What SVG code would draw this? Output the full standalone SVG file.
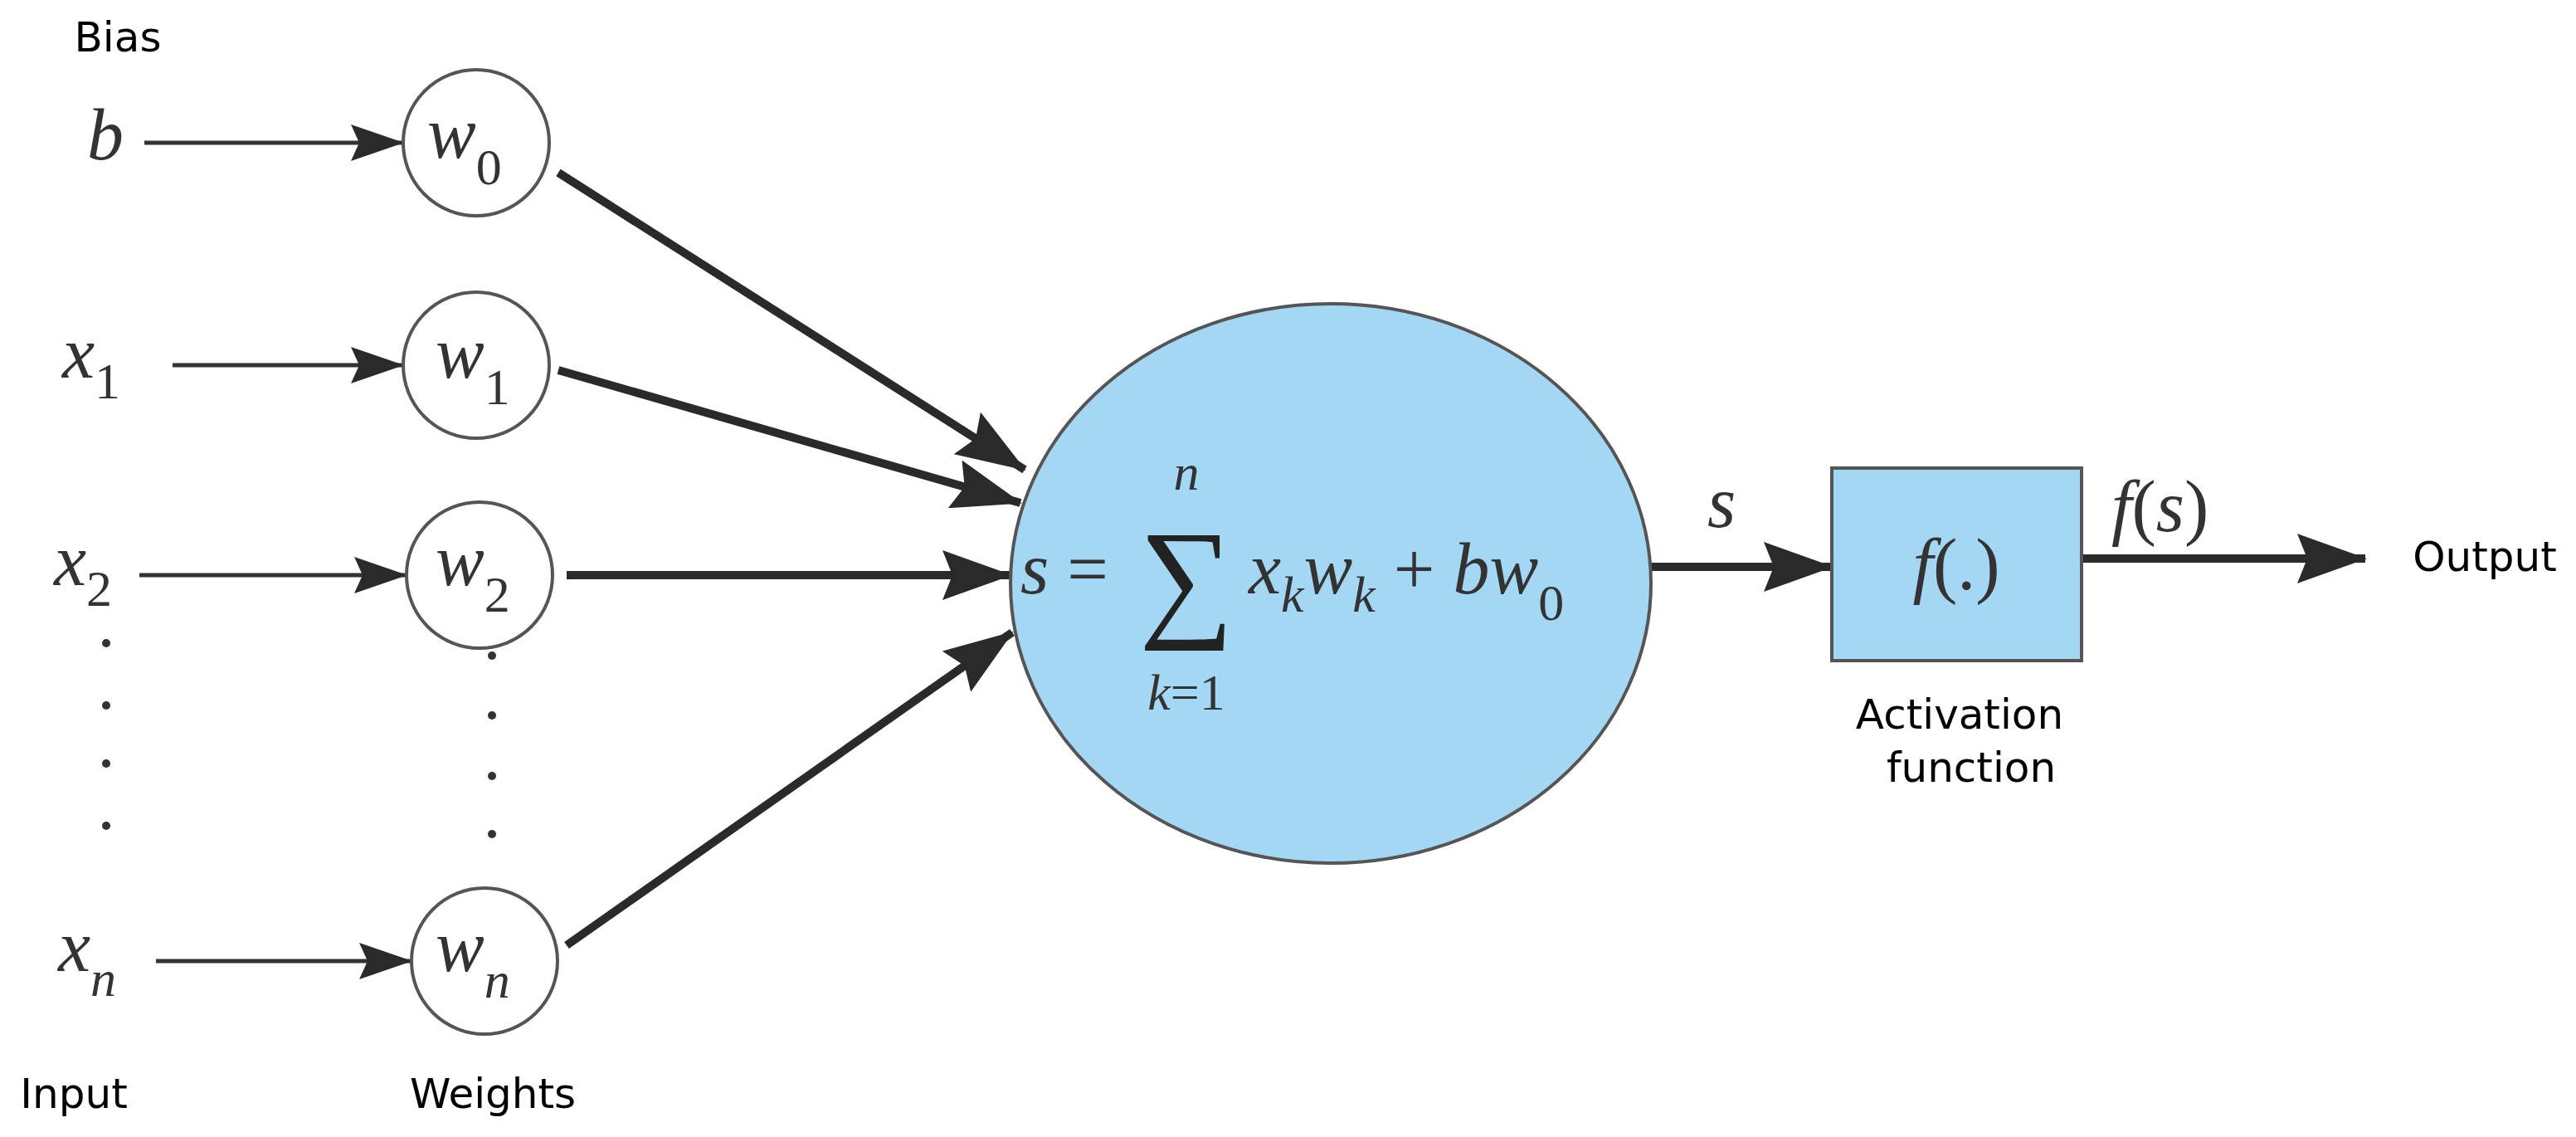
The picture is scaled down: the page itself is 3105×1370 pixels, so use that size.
<svg xmlns="http://www.w3.org/2000/svg" width="3105" height="1370" viewBox="0 0 3105 1370">
<style>
.lbl{font-family:"DejaVu Sans",sans-serif;font-size:50px;fill:#000}
.m{font-family:"Liberation Serif",serif;font-style:italic;font-size:88px;fill:#333}
.sub{font-family:"Liberation Serif",serif;font-style:normal;font-size:62px;fill:#333}
.subi{font-family:"Liberation Serif",serif;font-style:italic;font-size:62px;fill:#333}
.w{fill:#fff;stroke:#555;stroke-width:4}
.thin{stroke:#333;stroke-width:5;fill:none}
.thick{stroke:#2a2a2a;stroke-width:10;fill:none}
.dot{fill:#333}
</style>
<defs>
<marker id="ah" viewBox="0 0 64 44" refX="62" refY="22" markerWidth="64" markerHeight="44" markerUnits="userSpaceOnUse" orient="auto"><path d="M0,0 L64,22 L0,44 L10,22 z" fill="#2a2a2a"/></marker>
<marker id="ahk" viewBox="0 0 84 60" refX="82" refY="30" markerWidth="84" markerHeight="60" markerUnits="userSpaceOnUse" orient="auto"><path d="M0,0 L84,30 L0,60 L12,30 z" fill="#2a2a2a"/></marker>
</defs>
<g id="connectors">
<line class="thin" x1="174" y1="172" x2="485" y2="172" marker-end="url(#ah)"/>
<line class="thin" x1="208" y1="440" x2="485" y2="440" marker-end="url(#ah)"/>
<line class="thin" x1="168" y1="693" x2="489" y2="693" marker-end="url(#ah)"/>
<line class="thin" x1="188" y1="1158" x2="495" y2="1158" marker-end="url(#ah)"/>
<line class="thick" x1="673" y1="208" x2="1235" y2="566" marker-end="url(#ahk)"/>
<line class="thick" x1="673" y1="446" x2="1230" y2="606" marker-end="url(#ahk)"/>
<line class="thick" x1="683" y1="693" x2="1218" y2="693" marker-end="url(#ahk)"/>
<line class="thick" x1="683" y1="1139" x2="1220" y2="762" marker-end="url(#ahk)"/>
<line class="thick" x1="1990" y1="683" x2="2208" y2="683" marker-end="url(#ahk)"/>
<line class="thick" x1="2509" y1="673" x2="2851" y2="673" marker-end="url(#ahk)"/>
</g>
<g id="labels">
<text class="lbl" x="142" y="62" text-anchor="middle">Bias</text>
<text class="lbl" x="89" y="1335" text-anchor="middle">Input</text>
<text class="lbl" x="594" y="1335" text-anchor="middle">Weights</text>
<text class="lbl" x="2362" y="878" text-anchor="middle">Activation</text>
<text class="lbl" x="2376" y="942" text-anchor="middle">function</text>
<text class="lbl" x="2995" y="688" text-anchor="middle">Output</text>
<text class="m" x="2075" y="635" text-anchor="middle">s</text>
<text class="m" x="2545" y="640">f<tspan font-style="normal">(</tspan>s<tspan font-style="normal">)</tspan></text>
</g>
<g id="inputs">
<text class="m" x="105" y="192">b</text>
<text class="m" x="75" y="455">x<tspan class="sub" dy="25">1</tspan></text>
<text class="m" x="65" y="705">x<tspan class="sub" dy="25">2</tspan></text>
<text class="m" x="70" y="1170">x<tspan class="subi" dy="30">n</tspan></text>
<circle class="dot" cx="128" cy="775" r="5"/><circle class="dot" cx="128" cy="850" r="5"/><circle class="dot" cx="128" cy="920" r="5"/><circle class="dot" cx="128" cy="995" r="5"/>
</g>
<g id="w0"><circle class="w" cx="574" cy="172" r="88"/><text class="m" x="515" y="190">w<tspan class="sub" dy="32">0</tspan></text></g>
<g id="w1"><circle class="w" cx="574" cy="440" r="88"/><text class="m" x="525" y="455">w<tspan class="sub" dy="32">1</tspan></text></g>
<g id="w2"><circle class="w" cx="578" cy="693" r="88"/><text class="m" x="525" y="705">w<tspan class="sub" dy="32">2</tspan></text></g>
<g id="wdots"><circle class="dot" cx="593" cy="790" r="5"/><circle class="dot" cx="593" cy="862" r="5"/><circle class="dot" cx="593" cy="935" r="5"/><circle class="dot" cx="593" cy="1005" r="5"/></g>
<g id="wn"><circle class="w" cx="584" cy="1158" r="88"/><text class="m" x="525" y="1170">w<tspan class="subi" dy="32">n</tspan></text></g>
<g id="sum">
<ellipse cx="1604" cy="703" rx="386" ry="337" fill="#a3d7f3" stroke="#555" stroke-width="4"/>
<text class="m" x="1230" y="715">s <tspan font-style="normal">=</tspan></text>
<text x="1430" y="750" font-family="Liberation Serif,serif" font-size="160" fill="#222" text-anchor="middle">∑</text>
<text class="subi" x="1430" y="590" text-anchor="middle">n</text>
<text class="subi" x="1430" y="855" text-anchor="middle">k<tspan font-style="normal">=1</tspan></text>
<text class="m" x="1505" y="715">x<tspan class="subi" dy="22">k</tspan><tspan dy="-22">w</tspan><tspan class="subi" dy="22">k</tspan><tspan dy="-22" font-style="normal"> + </tspan><tspan>bw</tspan><tspan class="sub" dy="32">0</tspan></text>
</g>
<g id="act">
<rect x="2208" y="564" width="301" height="232" fill="#a3d7f3" stroke="#555" stroke-width="4"/>
<text class="m" x="2358" y="710" text-anchor="middle">f<tspan font-style="normal">(.)</tspan></text>
</g>
</svg>
